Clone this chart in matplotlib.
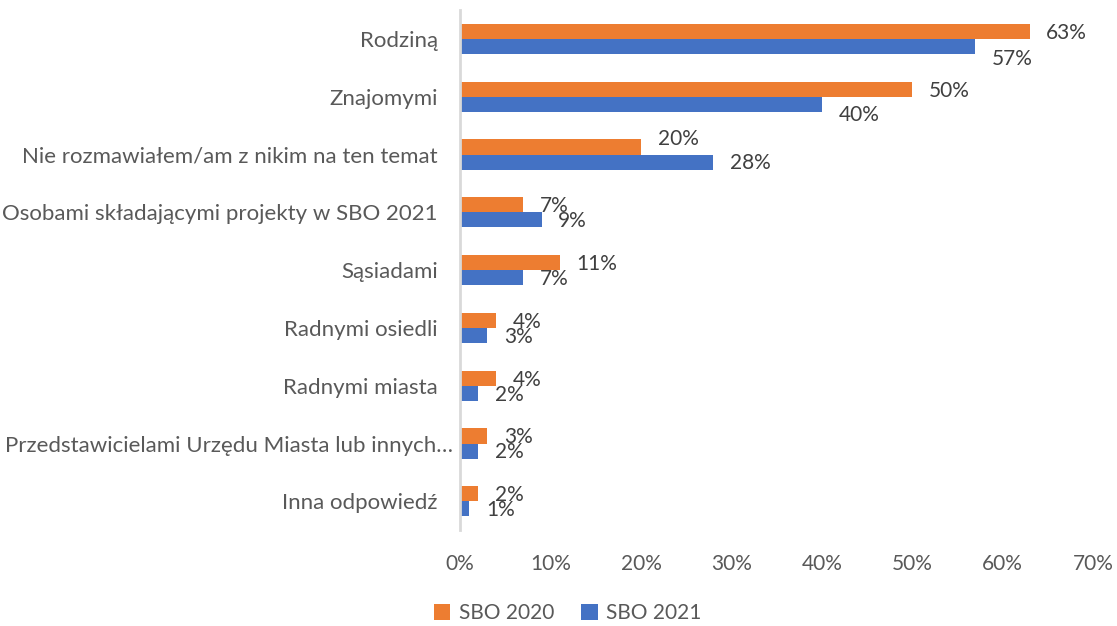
import matplotlib.pyplot as plt
import matplotlib.transforms as mtransforms
import numpy as np

plt.rcParams['font.family'] = ['Lato', 'DejaVu Sans']

# answers (top to bottom) and shares in percent
categories = [
    'Rodziną',
    'Znajomymi',
    'Nie rozmawiałem/am z nikim na ten temat',
    'Osobami składającymi projekty w SBO 2021',
    'Sąsiadami',
    'Radnymi osiedli',
    'Radnymi miasta',
    'Przedstawicielami Urzędu Miasta lub innych…',
    'Inna odpowiedź',
]
sbo_2020 = [63, 50, 20, 7, 11, 4, 4, 3, 2]
sbo_2021 = [57, 40, 28, 9, 7, 3, 2, 2, 1]
x_ticks = [0, 10, 20, 30, 40, 50, 60, 70]

c2020 = '#ED7D31'
c2021 = '#4472C4'
grey = '#595959'

fig = plt.figure(figsize=(11.17, 6.26), dpi=100)
ax = fig.add_axes([0.412, 0.153, 0.5665, 0.831])

y = np.arange(len(categories))
h = 0.26
ax.barh(y - h / 2, sbo_2020, height=h, color=c2020, label='SBO 2020')
ax.barh(y + h / 2, sbo_2021, height=h, color=c2021, label='SBO 2021')

# value labels next to the bar ends (vertical nudges in points)
dy_2020 = [-1, -1, 6, -1, -1, -1, -1, -1, -1]
dy_2021 = [-9, -8, -1, -1, -1, -1, -1, -1, -1]
for i in range(len(categories)):
    ax.annotate(f'{sbo_2020[i]}%', (sbo_2020[i], y[i] - h / 2),
                xytext=(12, dy_2020[i]), textcoords='offset points',
                ha='left', va='center', fontsize=15, color='#404040')
    ax.annotate(f'{sbo_2021[i]}%', (sbo_2021[i], y[i] + h / 2),
                xytext=(12, dy_2021[i]), textcoords='offset points',
                ha='left', va='center', fontsize=15, color='#404040')

ax.set_ylim(len(categories) - 0.5, -0.5)
ax.set_xlim(0, 70)
ax.set_yticks(y)
ax.set_yticklabels(categories, fontsize=16, color=grey)
ax.set_xticks(x_ticks)
ax.set_xticklabels([f'{t}%' for t in x_ticks], fontsize=15, color=grey)
ax.tick_params(axis='both', length=0)
ax.tick_params(axis='y', pad=16)
ax.tick_params(axis='x', pad=17)

# the shortened label runs closer to the axis
lbl = ax.get_yticklabels()[7]
lbl.set_transform(lbl.get_transform() +
                  mtransforms.ScaledTranslation(11 / 72, 0, fig.dpi_scale_trans))

for s in ['top', 'right', 'bottom']:
    ax.spines[s].set_visible(False)
ax.spines['left'].set_color('#d9d9d9')
ax.spines['left'].set_linewidth(2)

fig.legend(loc='center', bbox_to_anchor=(0.508, 0.02), ncol=2,
           frameon=False, fontsize=15, labelcolor=grey,
           handlelength=0.8, handleheight=0.8, handletextpad=0.4,
           columnspacing=1.3)

fig.savefig('out.png', dpi=100)
